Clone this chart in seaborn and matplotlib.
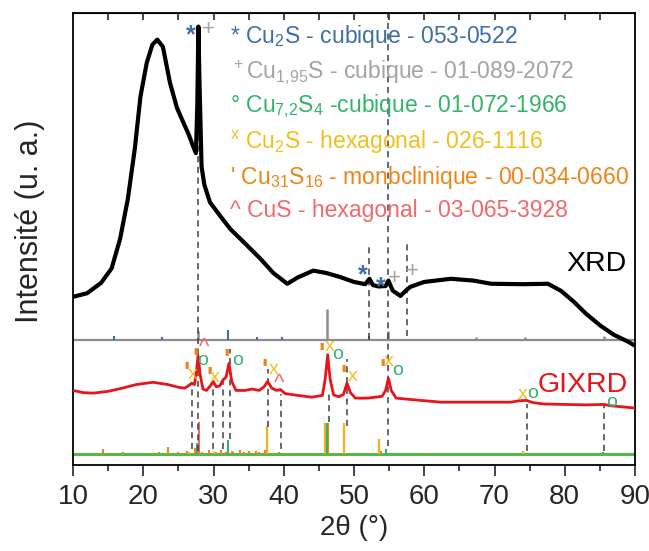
import numpy as np
import pandas as pd
import seaborn as sns
import matplotlib
matplotlib.use("Agg")
from matplotlib import pyplot as plt

# XRD curve (2theta, intensity, arb. units)
xrd_2theta = [10, 12, 14, 15.5, 16.7, 17.8, 18.8, 19.6, 20.5, 21.3, 22.0, 22.8, 23.8, 24.8,
              25.7, 26.5, 27.1, 27.5, 27.7, 27.85, 28.0, 28.3, 28.7, 29.5, 31, 32.4, 34.5,
              36.7, 38.5, 40.5, 42, 44.2, 46, 48, 50, 51.6, 52.2, 52.7, 53.5, 54.5, 54.9, 55.5,
              56.6, 57.4, 58, 60, 63.8, 67, 69.5, 74, 77.6, 79.5, 81.3, 83, 85.1, 87, 89, 90]
xrd_int = [37.2, 38.0, 40.3, 43.5, 50.0, 58.8, 70.0, 81.5, 89.0, 93.0, 94.1, 92.5, 84.6, 79.0,
           75.8, 73.0, 70.5, 69.0, 80.0, 97.0, 85.0, 66.0, 62.0, 58.1, 55.0, 52.2, 49.0,
           45.6, 42.5, 40.1, 41.5, 43.0, 42.5, 41.6, 40.5, 40.0, 41.2, 39.8, 39.5, 39.6, 40.8, 38.6,
           37.4, 38.6, 39.4, 40.5, 41.2, 40.8, 40.1, 40.0, 40.1, 38.5, 36.1, 33.5, 30.8, 28.8, 27.3, 26.4]

# GIXRD curve
gixrd_2theta = [10, 11.5, 12.9, 15, 17, 19, 21.4, 23.5, 25.0, 25.9, 26.5, 26.9, 27.3, 27.6, 27.8,
                28.1, 28.5, 29.0, 29.6, 29.95, 30.4, 30.9, 31.3, 31.8, 32.2, 32.6, 33.2, 34.5,
                35.5, 36.5, 37.2, 37.7, 38.3, 39.0, 39.5, 40.2, 42, 44, 45.5, 45.9, 46.25, 46.6,
                47.1, 47.8, 48.5, 49.0, 49.5, 50.2, 52, 54.0, 54.5, 54.9, 55.3, 56.0, 58, 62.4,
                66, 70, 72.3, 73.5, 74.5, 75.5, 77, 80, 83, 85.6, 86.5, 88, 90]
gixrd_int = [16.5, 16.0, 15.9, 16.3, 17.0, 17.8, 18.3, 17.8, 17.2, 17.0, 17.6, 18.1, 17.8, 21.0, 24.2,
             20.0, 16.8, 16.5, 17.6, 18.5, 17.3, 17.5, 18.7, 19.5, 22.5, 18.5, 16.5, 16.5,
             16.8, 16.5, 17.3, 18.5, 17.0, 16.5, 16.7, 15.8, 15.4, 15.0, 15.4, 19.0, 24.4, 19.0,
             15.5, 15.1, 15.6, 18.1, 16.0, 14.8, 14.8, 15.2, 16.5, 19.2, 16.5, 14.8, 14.5, 13.9,
             13.9, 13.9, 13.9, 14.2, 14.3, 13.8, 13.5, 13.4, 13.3, 13.4, 13.1, 12.9, 12.6]

xrd_base = 27.75
gixrd_base = 2.4

# reference patterns (position, relative height)
cu2s_cub_pos = [15.8, 22.7, 32.1, 36.2, 39.7, 52.1]
cu2s_cub_h = [0.7, 0.5, 2.2, 0.6, 0.5, 0.9]
cu195s_pos = [27.8, 46.2, 54.8, 67.3, 74.3, 85.6]
cu195s_h = [1.8, 6.8, 1.8, 0.6, 0.5, 0.9]

cu31s16_pos = [14.3, 17.1, 21.0, 22.3, 23.5, 25.0, 26.2, 27.4, 28.3, 29.4, 30.3, 31.0, 32.6,
               33.8, 34.4, 35.0, 36.0, 36.5, 37.3, 38.3, 40.5, 42.0, 44.0, 46.3, 53.9, 60.7]
cu31s16_h = [1.1, 0.5, 0.3, 0.4, 1.5, 0.5, 0.6, 1.3, 0.4, 1.0, 0.5, 0.9, 0.6,
             1.0, 0.5, 0.6, 0.7, 0.4, 0.9, 0.3, 0.3, 0.3, 0.3, 7.0, 0.8, 0.3]
cu2s_hex_pos = [26.5, 30.0, 37.6, 45.9, 48.6, 53.6, 74.0]
cu2s_hex_h = [0.5, 0.4, 6.2, 7.0, 6.8, 3.3, 0.6]
cu72s4_pos = [27.6, 32.1, 46.1, 54.6, 74.5, 85.5]
cu72s4_h = [2.4, 3.1, 7.0, 1.2, 0.3, 0.4]
cus_pos = [27.9, 29.3, 31.8, 32.8, 39.3, 48.0]
cus_h = [7.1, 0.3, 0.5, 0.4, 0.5, 0.3]

# dashed guide lines (position, bottom, top)
guide_pos = [27.8, 54.9, 52.2, 57.6, 26.9, 29.9, 31.3, 32.3, 37.7, 39.6, 46.4, 49.0, 74.6, 85.6]
guide_lo = [3.0, 4.2, 27.8, 28.5, 3.5, 3.5, 3.5, 5.7, 8.4, 3.5, 9.5, 8.6, 3.1, 3.1]
guide_hi = [97.0, 100, 48.3, 48.8, 17.4, 17.9, 20.0, 25.6, 21.2, 15.7, 16.1, 23.4, 13.5, 13.2]

c_blue = "#3f6fa3"
c_gray = "#a3a3a3"
c_green = "#34b36a"
c_gold = "#f2bf1d"
c_orange = "#ef8416"
c_pink = "#ee6a6c"

# phase markers on the curves (symbol, 2theta, y, colour)
mark_sym = ["*", "+", "*", "*", "+", "+",
            "'", "x", "'", "o", "^", "'", "x", "'", "o", "'", "x", "^",
            "'", "x", "o", "'", "x", "'", "x", "o", "x", "o", "o"]
mark_x = [26.7, 29.3, 51.3, 53.8, 55.7, 58.3,
          26.1, 27.0, 27.4, 28.5, 28.7, 29.4, 30.2, 31.8, 33.4, 37.2, 38.5, 39.4,
          45.4, 46.5, 47.6, 48.5, 49.8, 54.1, 55.0, 56.2, 74.0, 75.4, 86.6]
mark_y = [95.0, 96.3, 42.0, 39.4, 41.3, 42.8,
          20.3, 20.1, 23.4, 23.2, 26.0, 19.2, 19.4, 23.2, 23.2, 21.0, 21.2, 18.1,
          24.5, 26.3, 24.5, 19.6, 19.6, 21.0, 23.0, 21.0, 15.7, 15.9, 13.9]
mark_col = [c_blue, c_gray, c_blue, c_blue, c_gray, c_gray,
            c_orange, c_gold, c_orange, c_green, c_pink, c_orange, c_gold, c_orange, c_green,
            c_orange, c_gold, c_pink, c_orange, c_gold, c_green, c_orange, c_gold,
            c_orange, c_gold, c_green, c_gold, c_green, c_green]

legend_txt = [r"* Cu$_2$S - cubique - 053-0522",
              r"$^+$Cu$_{1{,}95}$S - cubique - 01-089-2072",
              r"° Cu$_{7{,}2}$S$_4$ -cubique - 01-072-1966",
              r"$^x$ Cu$_2$S - hexagonal - 026-1116",
              r"' Cu$_{31}$S$_{16}$ - monbclinique - 00-034-0660",
              r"^ CuS - hexagonal - 03-065-3928"]
legend_col = [c_blue, c_gray, c_green, c_gold, c_orange, c_pink]
legend_y = [94.7, 86.8, 79.3, 71.4, 63.7, 56.2]

sns.set_style("ticks")
plt.rcParams['font.family'] = ['Liberation Sans', 'DejaVu Sans']
plt.rcParams['mathtext.default'] = 'regular'

fig = plt.figure(figsize=(6.49, 5.51), dpi=100)
ax = fig.add_axes([73/649, 1-465/551, 562/649, 452/551])

df_xrd = pd.DataFrame({"x": xrd_2theta, "y": xrd_int})
df_gix = pd.DataFrame({"x": gixrd_2theta, "y": gixrd_int})

ax.axhline(xrd_base, color="#8c8c8c", lw=1.6, zorder=1)
ax.axhline(gixrd_base, color="#55b848", lw=2.2, zorder=1)

ax.vlines(cu2s_cub_pos, xrd_base, np.array(cu2s_cub_h) + xrd_base, color=c_blue, lw=1.5)
ax.vlines(cu195s_pos, xrd_base, np.array(cu195s_h) + xrd_base, color="#8c8c8c", lw=1.8)
ax.vlines(cu31s16_pos, gixrd_base, np.array(cu31s16_h) + gixrd_base, color=c_orange, lw=1.5)
ax.vlines(cu2s_hex_pos, gixrd_base, np.array(cu2s_hex_h) + gixrd_base, color="#f5b01a", lw=1.6)
ax.vlines(cu72s4_pos, gixrd_base, np.array(cu72s4_h) + gixrd_base, color=c_green, lw=1.5)
ax.vlines(cus_pos, gixrd_base, np.array(cus_h) + gixrd_base, color=c_pink, lw=1.5)

ax.vlines(guide_pos, guide_lo, guide_hi, color="#404040", lw=1.1, linestyles=(0, (4, 3)), zorder=2)

sns.lineplot(data=df_xrd, x="x", y="y", ax=ax, color="black", lw=3.0, zorder=3)
sns.lineplot(data=df_gix, x="x", y="y", ax=ax, color="#e8141b", lw=2.0, zorder=3)

for s, x, y, c in zip(mark_sym, mark_x, mark_y, mark_col):
    if s == "'":
        ax.text(x, y, s, color=c, fontsize=19, fontweight="bold", ha="center", va="center")
    elif s == "o":
        ax.text(x, y, s, color=c, fontsize=14, ha="center", va="center")
    elif s == "*":
        ax.text(x, y, s, color=c, fontsize=18, fontweight="bold", ha="center", va="center")
    elif s == "^":
        ax.text(x, y, s, color=c, fontsize=16, ha="center", va="center")
    elif s == "+":
        ax.text(x, y, s, color=c, fontsize=16, ha="center", va="center")
    else:
        ax.text(x, y, s, color=c, fontsize=14, ha="center", va="center")

for t, c, y in zip(legend_txt, legend_col, legend_y):
    ax.text(32.3, y, t, color=c, fontsize=16.5, ha="left", va="center")

ax.text(90 - 1.2, 44.5, "XRD", fontsize=20.5, color="black", ha="right", va="center")
ax.text(90 - 1.0, 17.8, "GIXRD", fontsize=20.5, color="#e8141b", ha="right", va="center")

ax.set_xlim(10, 90)
ax.set_ylim(0, 100)
ax.set_yticks([])
ax.set_xticks(range(10, 91, 10))
ax.set_xticks(range(15, 90, 10), minor=True)
ax.tick_params(axis="x", which="major", direction="out", length=8, width=1.2, labelsize=20, pad=6)
ax.tick_params(axis="x", which="minor", direction="out", length=4, width=1.2)
ax.set_xlabel("2θ (°)", fontsize=20)
ax.set_ylabel("Intensité (u. a.)", fontsize=22)
ax.xaxis.set_label_coords(0.5, -0.111)
ax.yaxis.set_label_coords(-0.05, 0.54)
for sp in ax.spines.values():
    sp.set_linewidth(1.3)
    sp.set_color("black")

top = ax.secondary_xaxis("top")
top.set_xticks(range(15, 90, 5))
top.tick_params(direction="in", length=5, width=1.2, labeltop=False)

fig.savefig("out.png", dpi=100)
